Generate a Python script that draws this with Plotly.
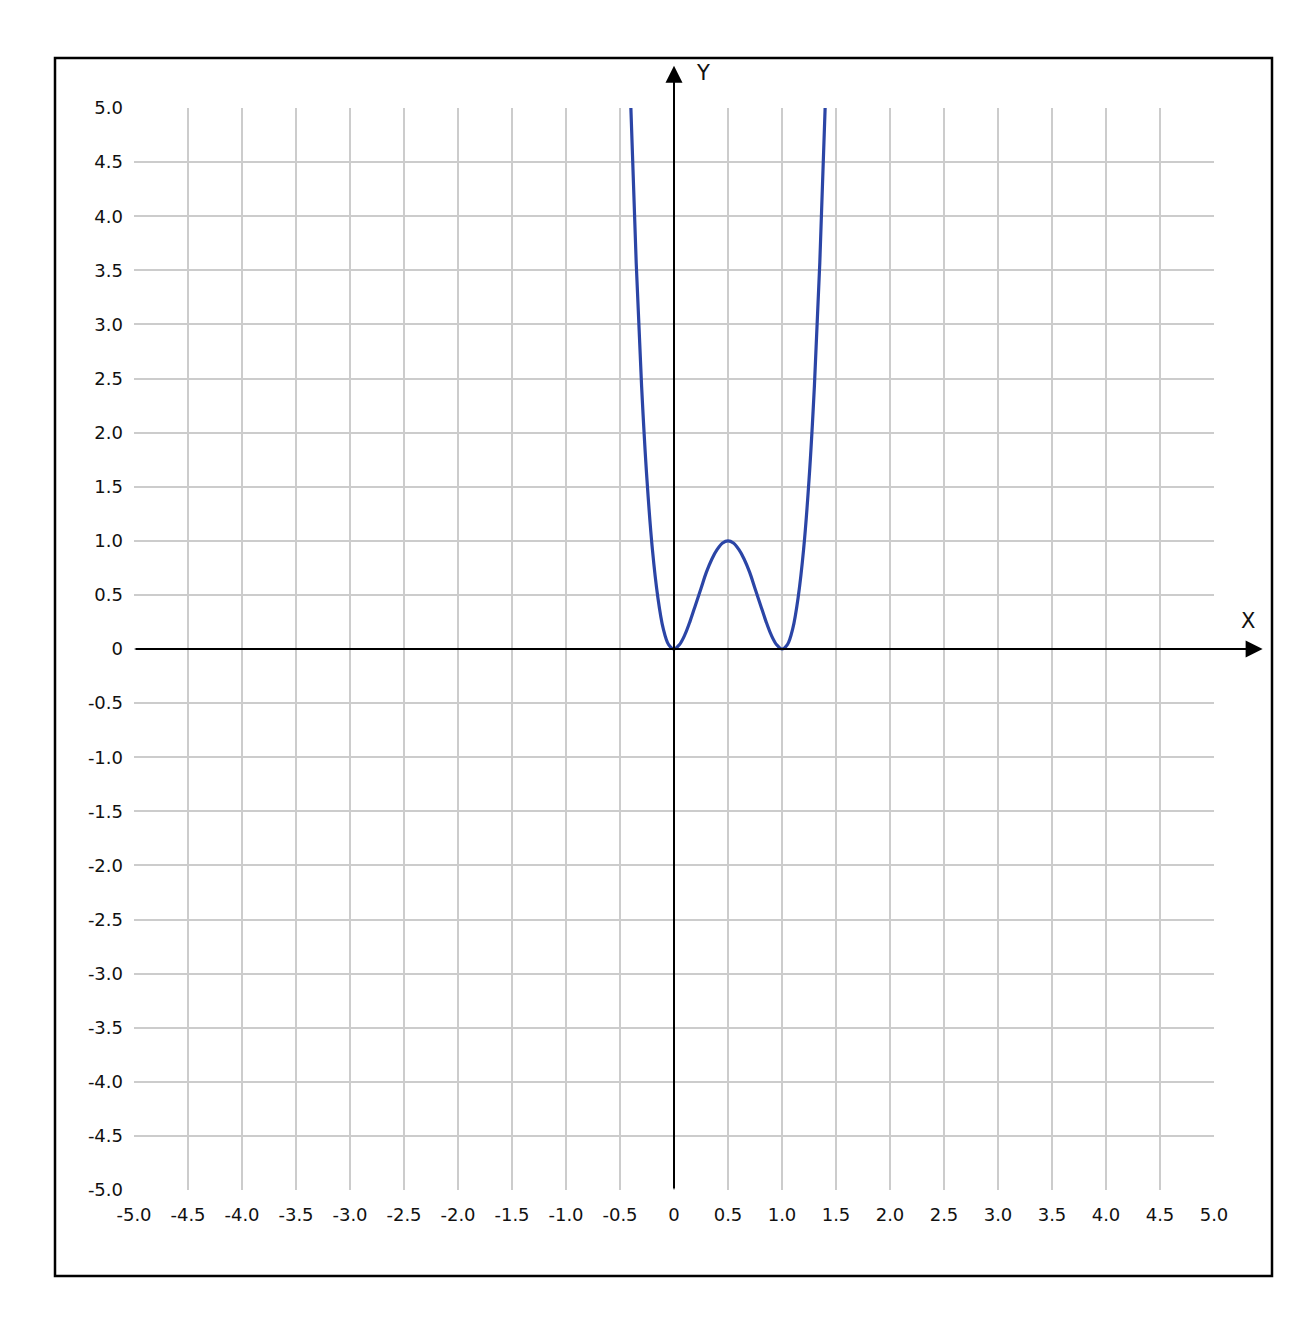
import plotly.graph_objects as go

# Curve points
curve_x = [-0.40, -0.35, -0.30, -0.25, -0.20, -0.15, -0.10, -0.05, 0.00,
           0.05, 0.10, 0.15, 0.20, 0.25, 0.30, 0.35, 0.40, 0.45, 0.50,
           0.55, 0.60, 0.65, 0.70, 0.75, 0.80, 0.85, 0.90, 0.95, 1.00,
           1.05, 1.10, 1.15, 1.20, 1.25, 1.30, 1.35, 1.40]
curve_y = [5.02, 3.57, 2.43, 1.56, 0.92, 0.48, 0.19, 0.04, 0.00,
           0.04, 0.13, 0.26, 0.41, 0.56, 0.71, 0.83, 0.92, 0.98, 1.00,
           0.98, 0.92, 0.83, 0.71, 0.56, 0.41, 0.26, 0.13, 0.04, 0.00,
           0.04, 0.19, 0.48, 0.92, 1.56, 2.43, 3.57, 5.02]

tick_vals = [-5.0, -4.5, -4.0, -3.5, -3.0, -2.5, -2.0, -1.5, -1.0, -0.5, 0,
             0.5, 1.0, 1.5, 2.0, 2.5, 3.0, 3.5, 4.0, 4.5, 5.0]
tick_text = ["-5.0", "-4.5", "-4.0", "-3.5", "-3.0", "-2.5", "-2.0", "-1.5", "-1.0", "-0.5", "0",
             "0.5", "1.0", "1.5", "2.0", "2.5", "3.0", "3.5", "4.0", "4.5", "5.0"]

OFF = 8  # page body margin
W, H = 1305 - OFF, 1320 - OFF
L, T = 134 - OFF, 108 - OFF
R, B = W - (1214 - OFF), H - (1190 - OFF)
pw, ph = W - L - R, H - T - B

def px2paper_x(p):
    return (p - OFF - L) / pw

def px2paper_y(p):
    return (H - B - (p - OFF)) / ph

fig = go.Figure()
fig.add_trace(go.Scatter(
    x=curve_x, y=curve_y, mode="lines",
    line=dict(color="#2b45a6", width=3.2, shape="spline", smoothing=1.0),
    hoverinfo="skip", showlegend=False, cliponaxis=True,
))

FAM = "DejaVu Sans, Verdana, sans-serif"
tickfont = dict(family=FAM, size=18, color="#111111")

fig.update_layout(
    width=W, height=H,
    margin=dict(l=L, r=R, t=T, b=B),
    paper_bgcolor="white", plot_bgcolor="white",
    font=dict(family=FAM, size=18, color="#111111"),
    showlegend=False,
    xaxis=dict(range=[-5, 5], tickvals=tick_vals, ticktext=tick_text, tickfont=tickfont,
               showgrid=True, gridcolor="#cccccc", gridwidth=2,
               zeroline=False, showline=False, ticks="", ticklabelstandoff=12,
               fixedrange=True),
    yaxis=dict(range=[-5, 5], tickvals=tick_vals, ticktext=tick_text, tickfont=tickfont,
               showgrid=True, gridcolor="#cccccc", gridwidth=2,
               zeroline=False, showline=False, ticks="", ticklabelstandoff=10,
               fixedrange=True),
)

shapes = []
# outer frame
shapes.append(dict(type="rect", xref="paper", yref="paper",
                   x0=px2paper_x(55), x1=px2paper_x(1272),
                   y0=px2paper_y(1276), y1=px2paper_y(58),
                   line=dict(color="black", width=2.5), layer="above"))
fig.update_layout(shapes=shapes)

ann = []
# X axis with arrow
ann.append(dict(x=5.45, y=0, ax=-5, ay=0, xref="x", yref="y", axref="x", ayref="y",
                showarrow=True, arrowhead=2, arrowsize=1.7, arrowwidth=2,
                arrowcolor="black", text=""))
# Y axis with arrow
ann.append(dict(x=0, y=5.39, ax=0, ay=-5, xref="x", yref="y", axref="x", ayref="y",
                showarrow=True, arrowhead=2, arrowsize=1.7, arrowwidth=2,
                arrowcolor="black", text=""))
ann.append(dict(x=px2paper_x(1248), y=px2paper_y(621), xref="paper", yref="paper",
                xanchor="center", yanchor="middle",
                text="X", showarrow=False, font=dict(family=FAM, size=21, color="#111111")))
ann.append(dict(x=px2paper_x(703), y=px2paper_y(73), xref="paper", yref="paper",
                xanchor="center", yanchor="middle",
                text="Y", showarrow=False, font=dict(family=FAM, size=21, color="#111111")))
fig.update_layout(annotations=ann)

fig.write_html("out.html", config={"displayModeBar": False})
